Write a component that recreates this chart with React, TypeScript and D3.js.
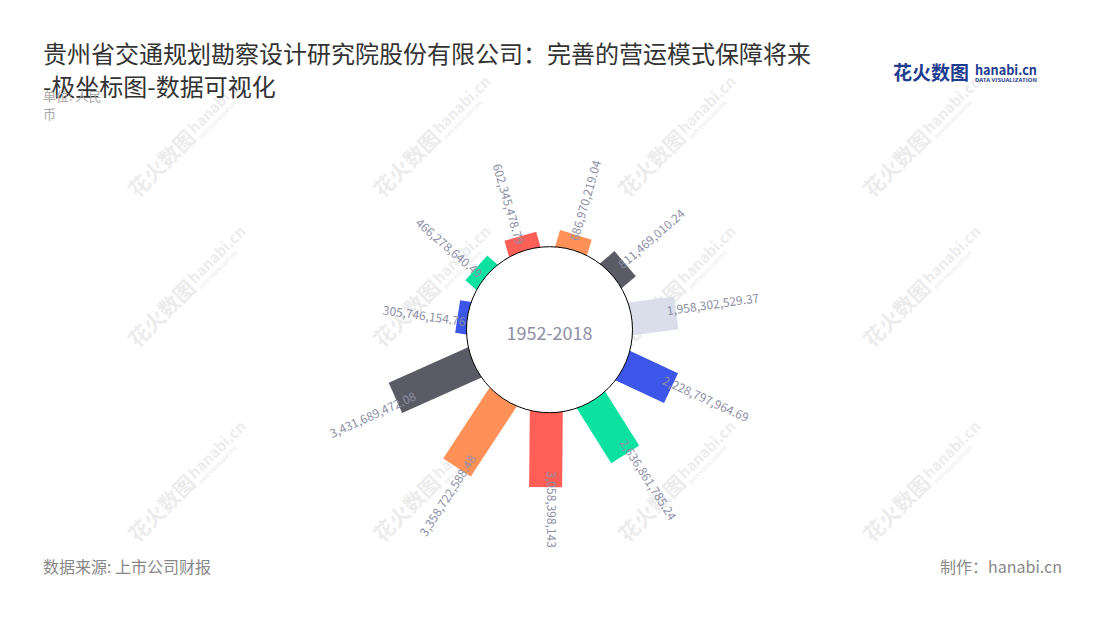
import React from "react";
import * as d3 from "d3";

// ---- data ----
const values: number[] = [
  305746154.76, 466278640.49, 602345478.79, 686970219.04, 811469010.24,
  1958302529.37, 2228797964.69, 2636861785.24, 3058398143, 3358722588.48,
  3431689472.08,
];
const palette: string[] = ["#3b56e8", "#0be2a1", "#ff5f57", "#ff9158", "#5b5b66", "#d9deea"];
const titleLines: string[] = [
  "贵州省交通规划勘察设计研究院股份有限公司：完善的营运模式保障将来",
  "-极坐标图-数据可视化",
];
const unitLines: string[] = ["单位: 人民", "币"];
const centerLabel = "1952-2018";
const sourceText = "数据来源: 上市公司财报";
const makerText = "制作：hanabi.cn";
const watermarkXs: number[] = [180, 425, 670, 915];
const watermarkYs: number[] = [145, 295, 490];

const W = 1100;
const H = 620;
const cx = 549.5;
const cy = 329.7;
const r0 = 83;
const rMax = 166;
const barW = 33;
const labelColor = "#8d8fa6";
const font = "'Noto Sans CJK SC', 'Noto Sans', sans-serif";

const fmt = d3.format(",");

function Watermark({ x, y }: { x: number; y: number }) {
  return (
    <g transform={`translate(${x},${y}) rotate(-45)`} opacity={0.07} fontFamily={font} fontWeight={700}>
      <text x={-68} y={8} fontSize={21} fill="#000">花火数图</text>
      <text x={18} y={3} fontSize={15} fill="#000">hanabi.cn</text>
      <text x={19} y={11} fontSize={5} fill="#000">DATA VISUALIZATION</text>
    </g>
  );
}

export default function App() {
  const n = values.length;
  const step = 360 / n;
  const start = 180 - 8 * step;
  const angle = d3.scaleLinear().domain([0, n]).range([start, start + 360]);
  const radius = d3.scaleLinear().domain([0, d3.max(values) as number]).range([r0, rMax]);

  return (
    <svg
      width={W}
      height={H}
      style={{ position: "absolute", left: 0, top: 0, background: "#fff" }}
      fontFamily={font}
    >
      <rect width={W} height={H} fill="#fff" />
      {watermarkYs.map((wy) =>
        watermarkXs.map((wx) => <Watermark key={`${wx}-${wy}`} x={wx} y={wy} />)
      )}

      {/* title */}
      {titleLines.map((t, i) => (
        <text key={i} x={43} y={63 + i * 33} fontSize={24} fill="#333">
          {t}
        </text>
      ))}
      {unitLines.map((t, i) => (
        <text key={i} x={43} y={101 + i * 18} fontSize={13} fill="#aaa">
          {t}
        </text>
      ))}

      {/* logo */}
      <g fontFamily={font} fontWeight={700}>
        <text x={893} y={80} fontSize={19} fill="#1f3d8f">花火数图</text>
        <text x={975} y={75} fontSize={13} fill="#1f3d8f" textLength={62} lengthAdjust="spacingAndGlyphs">hanabi.cn</text>
        <text x={975} y={82} fontSize={4.5} fill="#1f3d8f" textLength={62} lengthAdjust="spacingAndGlyphs">DATA VISUALIZATION</text>
      </g>

      {/* bars */}
      {values.map((v, i) => {
        const a = angle(i) + 0.5;
        const outer = radius(v);
        return (
          <g key={i} transform={`translate(${cx - 2.5},${cy + 0.5}) rotate(${a})`}>
            <rect x={-barW / 2} y={-outer} width={barW} height={outer - 60} fill={palette[i % palette.length]} />
          </g>
        );
      })}

      {/* center circle */}
      <circle cx={cx} cy={cy} r={r0} fill="#fff" stroke="#000" strokeWidth={1} />
      <text x={cx} y={340} textAnchor="middle" fontSize={18} fill={labelColor}>
        {centerLabel}
      </text>

      {/* labels */}
      {values.map((v, i) => {
        const a = angle(i);
        const norm = ((a % 360) + 360) % 360;
        const outer = radius(v);
        const len = outer - r0;
        const anchor = outer - 5 - 0.14 * len;
        const right = norm <= 180.01;
        return (
          <g key={i} transform={`translate(${cx},${cy}) rotate(${a}) translate(0,${-anchor}) rotate(${right ? -90 : 90})`}>
            <text
              x={0}
              y={right ? -3 : 3}
              dominantBaseline="central"
              textAnchor={right ? "start" : "end"}
              fontSize={12}
              fill={labelColor}
            >
              {fmt(v)}
            </text>
          </g>
        );
      })}

      {/* footer */}
      <text x={43} y={573} fontSize={16} fill="#888">{sourceText}</text>
      <text x={1062} y={573} fontSize={16} fill="#888" textAnchor="end">{makerText}</text>
    </svg>
  );
}
